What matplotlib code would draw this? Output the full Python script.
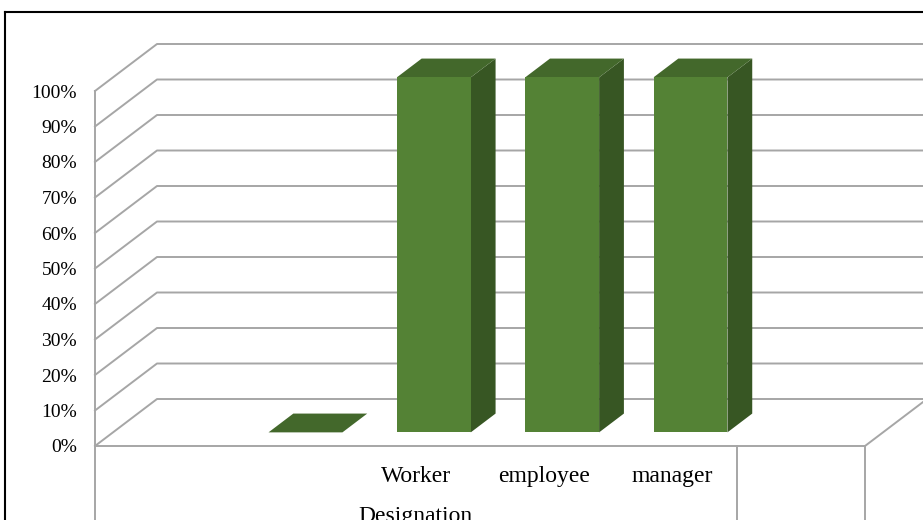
import matplotlib.pyplot as plt
from matplotlib.patches import Polygon
from matplotlib.lines import Line2D

# data
categories = ["", "", "Worker", "employee", "manager", ""]
values = [None, 0.0, 1.0, 1.0, 1.0, None]
group_label = "Designation"
group_span = (-0.5, 4.5)
yticks = [i / 10 for i in range(11)]
ytick_labels = ["%d%%" % (i * 10) for i in range(11)]

# style
FRONT = "#548235"
SIDE = "#375623"
TOP = "#43682b"
GRID = "#a6a6a6"
DX = 62 / (770 / 6)   # depth offset in category units
DY = 47 / 355         # depth offset in value units
D0, D1 = 0.29, 0.69   # bar depth range
HALF = 0.288          # bar half width

plt.rcParams['font.family'] = ['Liberation Serif', 'DejaVu Serif']

fig = plt.figure(figsize=(9.23, 5.2), dpi=100)
ax = fig.add_axes([95 / 923, 74 / 520, 770 / 923, 355 / 520])
ax.set_xlim(-0.5, 5.5)
ax.set_ylim(0, 1)
ax.patch.set_visible(False)
for s in ax.spines.values():
    s.set_visible(False)


def proj(x, v, d):
    return (x + d * DX, v + d * DY)


# walls and gridlines
for v in yticks:
    xs, ys = zip(proj(-0.5, v, 0), proj(-0.5, v, 1), proj(5.5, v, 1))
    ax.plot(xs, ys, color=GRID, lw=1.4, clip_on=False, zorder=1)
ax.plot([-0.5, -0.5], [0, 1], color=GRID, lw=1.4, clip_on=False, zorder=1)
ax.plot([-0.5, 5.5], [0, 0], color=GRID, lw=1.4, clip_on=False, zorder=1)
xs, ys = zip(proj(5.5, 0, 0), proj(5.5, 0, 1))
ax.plot(xs, ys, color=GRID, lw=1.4, clip_on=False, zorder=1)

# category table dividers
for xd in [-0.5, 4.5, 5.5]:
    ax.plot([xd, xd], [0, -0.3], color=GRID, lw=1.4, clip_on=False, zorder=1)

# bars
for i, v in enumerate(values):
    if v is None:
        continue
    x0, x1 = i - HALF, i + HALF
    side = [proj(x1, 0, D0), proj(x1, 0, D1), proj(x1, v, D1), proj(x1, v, D0)]
    top = [proj(x0, v, D0), proj(x1, v, D0), proj(x1, v, D1), proj(x0, v, D1)]
    front = [proj(x0, 0, D0), proj(x1, 0, D0), proj(x1, v, D0), proj(x0, v, D0)]
    ax.add_patch(Polygon(side, closed=True, facecolor=SIDE, edgecolor="none",
                         zorder=3, clip_on=False))
    ax.add_patch(Polygon(top, closed=True, facecolor=TOP, edgecolor="none",
                         zorder=3, clip_on=False))
    if v > 0:
        ax.add_patch(Polygon(front, closed=True, facecolor=FRONT, edgecolor="none",
                             zorder=4, clip_on=False))

# axis labels
ax.set_yticks(yticks, ytick_labels, fontsize=14)
ax.set_xticks([])
ax.tick_params(axis='y', length=0, pad=13)

for i, lab in enumerate(categories):
    ax.annotate(lab, xy=(i, 0), xycoords=('data', 'axes fraction'),
                xytext=(0, -36 * 0.72), textcoords='offset points',
                ha='center', va='baseline', fontsize=17)
ax.annotate(group_label, xy=(sum(group_span) / 2, 0), xycoords=('data', 'axes fraction'),
            xytext=(0, -76 * 0.72), textcoords='offset points',
            ha='center', va='baseline', fontsize=17, annotation_clip=False)

# outer border (cropped chart frame)
fig.add_artist(Line2D([5 / 923, 5 / 923], [0, 508 / 520], color='black', lw=1.5))
fig.add_artist(Line2D([5 / 923, 1], [508 / 520, 508 / 520], color='black', lw=1.5))

fig.savefig("out.png", dpi=100)
